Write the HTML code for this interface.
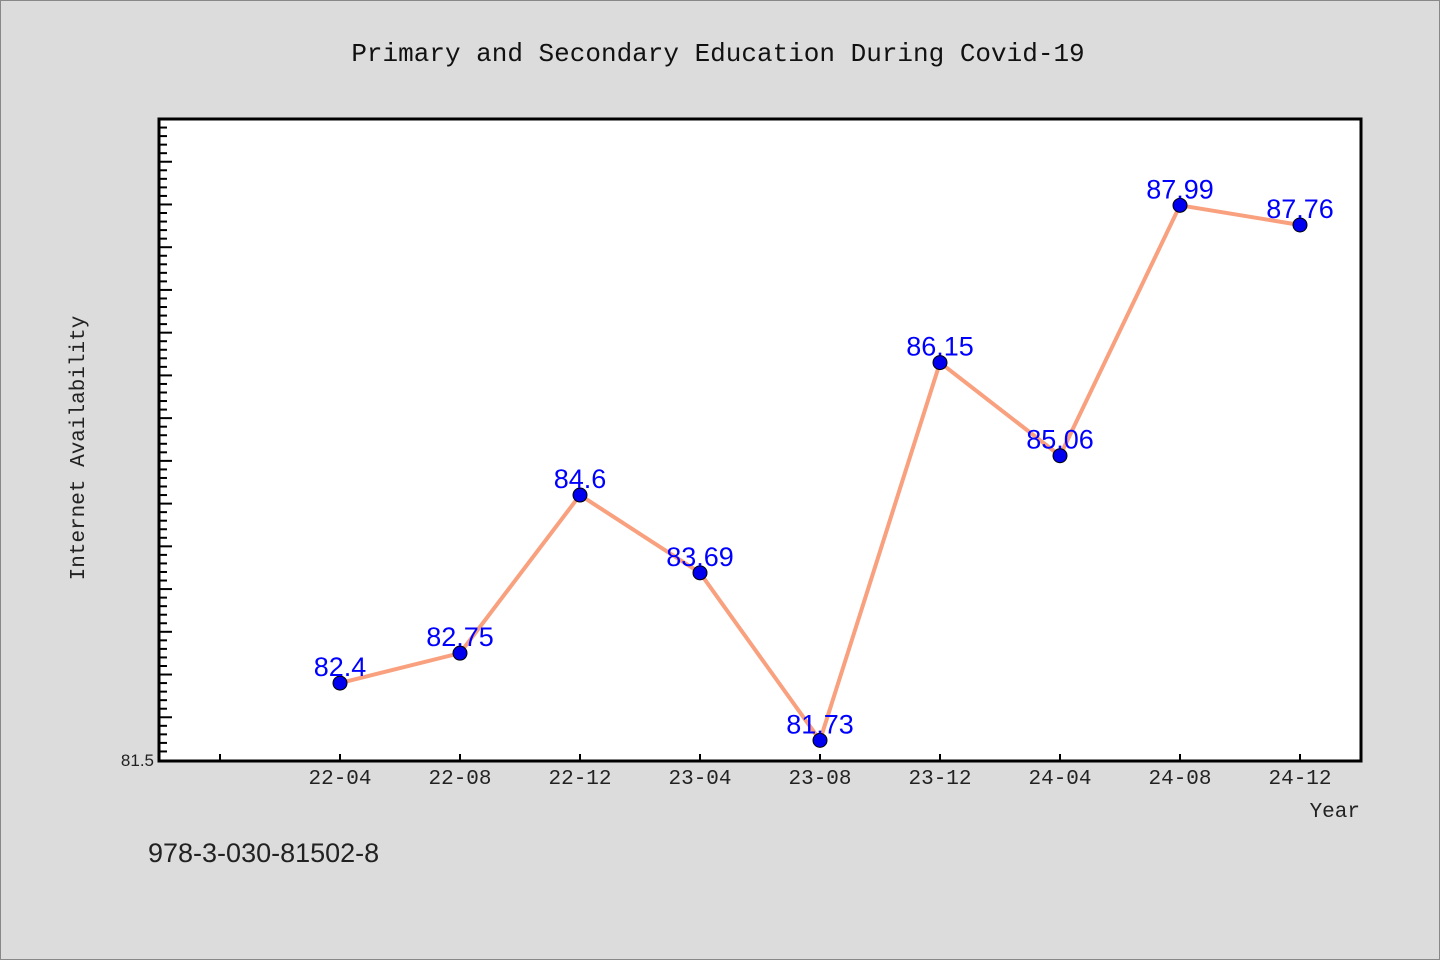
<!DOCTYPE html>
<html><head><meta charset="utf-8"><style>
body{margin:0;background:#dcdcdc;}
svg{display:block;font-family:"Liberation Mono","WenQuanYi Zen Hei",monospace;}
</style></head><body>
<svg width="1440" height="960">
<rect x="0.5" y="0.5" width="1439" height="959" fill="#dcdcdc" stroke="#888"/>
<text x="718" y="61" font-size="26" text-anchor="middle" fill="#111">Primary and Secondary Education During Covid-19</text>
<rect x="159" y="119" width="1202" height="642" fill="#fff"/>
<g id="ticks"></g>
<g id="series"></g>
<rect x="159" y="119" width="1202" height="642" fill="none" stroke="#000" stroke-width="3"/>
<text x="154" y="766" font-size="17" text-anchor="end" fill="#222" font-family="Liberation Sans, sans-serif">81.5</text>
<text x="84" y="448" font-size="21" text-anchor="middle" fill="#222" transform="rotate(-90 84 448)">Internet Availability</text>
<text x="1360" y="817" font-size="21" text-anchor="end" fill="#222">Year</text>
<text x="148" y="862" font-size="27" fill="#222" font-family="Liberation Sans, sans-serif">978-3-030-81502-8</text>
</svg>
<script>
const categories=["22-04","22-08","22-12","23-04","23-08","23-12","24-04","24-08","24-12"];
const values=[82.4,82.75,84.6,83.69,81.73,86.15,85.06,87.99,87.76];
const labels=["82.4","82.75","84.6","83.69","81.73","86.15","85.06","87.99","87.76"];
const yMin=81.5,yMax=89.0;
const NS="http://www.w3.org/2000/svg";
function x(i){return 340+120*i;}
function y(v){return 760-(v-yMin)/(yMax-yMin)*641;}
function mk(t,a,p){const e=document.createElementNS(NS,t);for(const k in a)e.setAttribute(k,a[k]);p.appendChild(e);return e;}
const tk=document.getElementById('ticks');
for(let k=1;k<=75;k++){const v=yMin+k*0.1;const yy=y(v);if(yy<120)break;const major=k%5===0;
const l=mk('line',{x1:159,x2:major?172:167,y1:yy,y2:yy,stroke:'#000','stroke-width':2},tk);

}
for(let i=-1;i<categories.length;i++){const l=mk('line',{x1:x(i),x2:x(i),y1:761,y2:754,stroke:'#000','stroke-width':2},tk);


if(i>=0){const t=mk('text',{x:x(i),y:784,'font-size':21,'text-anchor':'middle',fill:'#222'},tk);t.textContent=categories[i];

}}
const s=document.getElementById('series');
const pl=mk('polyline',{points:values.map((v,i)=>x(i)+','+y(v)).join(' '),fill:'none',stroke:'#f9a07e','stroke-width':4},s);


values.forEach((v,i)=>{const c=mk('circle',{cx:x(i),cy:y(v),r:7,fill:'#0000ee',stroke:'#000','stroke-width':1},s);


const t=mk('text',{x:x(i),y:y(v)-7,'font-size':27,'text-anchor':'middle',fill:'#0000ff','font-family':'Liberation Sans, sans-serif'},s);t.textContent=labels[i];

});
</script>
</body></html>
